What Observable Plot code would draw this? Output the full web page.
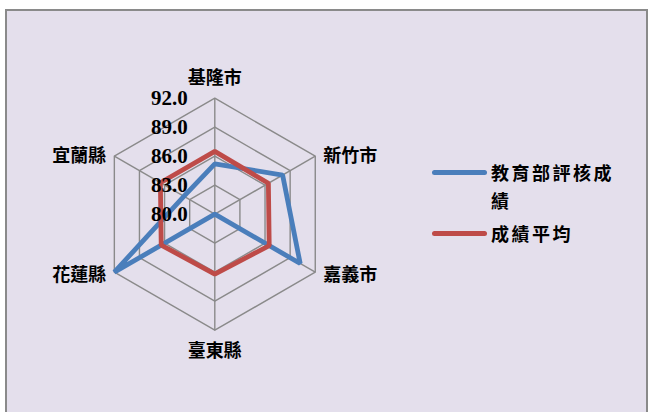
<!DOCTYPE html>
<html>
<head>
<meta charset="utf-8">
<script src="https://cdn.jsdelivr.net/npm/d3@7"></script>
<script src="https://cdn.jsdelivr.net/npm/@observablehq/plot@0.6"></script>
<style>
  html, body { margin: 0; padding: 0; background: #ffffff; }
  #wrap { position: relative; width: 648px; height: 412px; overflow: hidden; }
  #panel { position: absolute; left: 5px; top: 9px; width: 639px; height: 410px;
           background: #E4DFEC; border: 2px solid #8a8a8a; }
  #chart { position: absolute; left: 0; top: 0; }
  .leg { position: absolute; font-family: "Noto Sans CJK TC", sans-serif; font-weight: 700;
         font-size: 18px; color: #000; letter-spacing: 2.5px; line-height: 28px; }
  .bar { position: absolute; height: 5px; border-radius: 2.5px; }
</style>
</head>
<body>
<div id="wrap">
  <div id="panel"></div>
  <div id="chart"></div>
  <div id="legend"></div>
</div>
<script>
const categories = ["基隆市", "新竹市", "嘉義市", "臺東縣", "花蓮縣", "宜蘭縣"];
const seriesNames = ["教育部評核成績", "成績平均"];
const evalScores = [85.2, 88.1, 90.2, 80.0, 92.0, 83.7];
const avgScores = [86.5, 86.4, 86.5, 86.2, 86.4, 86.5];
const tickValues = [80, 83, 86, 89, 92];
const tickLabels = ["80.0", "83.0", "86.0", "89.0", "92.0"];
const seriesColors = ["#4A7EBB", "#BE4B48"];

const W = 648, H = 412;
const cx = 214.3, cy = 213.7, R = 116;
const vMin = tickValues[0], vMax = tickValues[tickValues.length - 1];
const rad = v => (v - vMin) / (vMax - vMin);
const ang = i => (i * 2 * Math.PI) / categories.length;
const px = (v, i) => rad(v) * Math.sin(ang(i));
const py = (v, i) => rad(v) * Math.cos(ang(i));

const rings = [];
tickValues.slice(1).forEach(t => categories.forEach((c, i) => rings.push({t, i})));
const spokes = categories.map((c, i) => ({c, i}));
const series = [];
[evalScores, avgScores].forEach((arr, s) => arr.forEach((v, i) => series.push({s: seriesNames[s], v, i})));

const labelData = categories.map((c, i) => ({c, i, sx: Math.sin(ang(i)), sy: Math.cos(ang(i))}));
const catFont = {fontFamily: "Noto Sans CJK TC, sans-serif", fontWeight: "bold", fontSize: 18,
                 fill: "#000", style: {letterSpacing: "2px"}};
const lx = d => px(vMax, d.i), ly = d => py(vMax, d.i);

const plot = Plot.plot({
  width: W, height: H,
  margin: 0,
  x: {domain: [-cx / R, (W - cx) / R], axis: null},
  y: {domain: [-(H - cy) / R, cy / R], axis: null},
  color: {domain: seriesNames, range: seriesColors},
  style: {background: "transparent", overflow: "visible"},
  marks: [
    Plot.line(rings, {
      x: d => px(d.t, d.i), y: d => py(d.t, d.i), z: "t",
      curve: "linear-closed", stroke: "#8a8a8a", strokeWidth: 1.4
    }),
    Plot.link(spokes, {
      x1: d => px(vMin, d.i), y1: d => py(vMin, d.i),
      x2: d => px(vMax, d.i), y2: d => py(vMax, d.i),
      stroke: "#8a8a8a", strokeWidth: 1.4
    }),
    Plot.line(series, {
      x: d => px(d.v, d.i), y: d => py(d.v, d.i), z: "s",
      stroke: "s", curve: "linear-closed", strokeWidth: 4.8, strokeLinejoin: "miter"
    }),
    Plot.text(tickValues, {
      x: 0, y: d => rad(d), text: (d, k) => tickLabels[k],
      textAnchor: "end", dx: -27,
      fontFamily: "Liberation Serif, Times New Roman, serif", fontWeight: "bold", fontSize: 21,
      fill: "#000"
    }),
    Plot.text(labelData.filter(d => Math.abs(d.sx) < 0.1 && d.sy > 0), {x: lx, y: ly, text: "c", dy: -20, ...catFont}),
    Plot.text(labelData.filter(d => Math.abs(d.sx) < 0.1 && d.sy < 0), {x: lx, y: ly, text: "c", dy: 21, ...catFont}),
    Plot.text(labelData.filter(d => d.sx >= 0.1 && d.sy > 0), {x: lx, y: ly, text: "c", textAnchor: "start", dx: 8, dy: 0, ...catFont}),
    Plot.text(labelData.filter(d => d.sx >= 0.1 && d.sy < 0), {x: lx, y: ly, text: "c", textAnchor: "start", dx: 8, dy: 3, ...catFont}),
    Plot.text(labelData.filter(d => d.sx <= -0.1 && d.sy > 0), {x: lx, y: ly, text: "c", textAnchor: "end", dx: -8, dy: 0, ...catFont}),
    Plot.text(labelData.filter(d => d.sx <= -0.1 && d.sy < 0), {x: lx, y: ly, text: "c", textAnchor: "end", dx: -8, dy: 3, ...catFont})
  ]
});
document.getElementById("chart").appendChild(plot);

const legend = document.getElementById("legend");
const legendTops = [172, 233];
seriesNames.forEach((name, s) => {
  const bar = document.createElement("div");
  bar.className = "bar";
  bar.style.left = "432px";
  bar.style.width = "55px";
  bar.style.top = (legendTops[s] - 2.5) + "px";
  bar.style.background = seriesColors[s];
  legend.appendChild(bar);
  const t = document.createElement("div");
  t.className = "leg";
  t.style.left = "491px";
  t.style.top = (legendTops[s] - 14) + "px";
  t.style.width = "128px";
  t.textContent = name;
  legend.appendChild(t);
});
</script>
</body>
</html>
